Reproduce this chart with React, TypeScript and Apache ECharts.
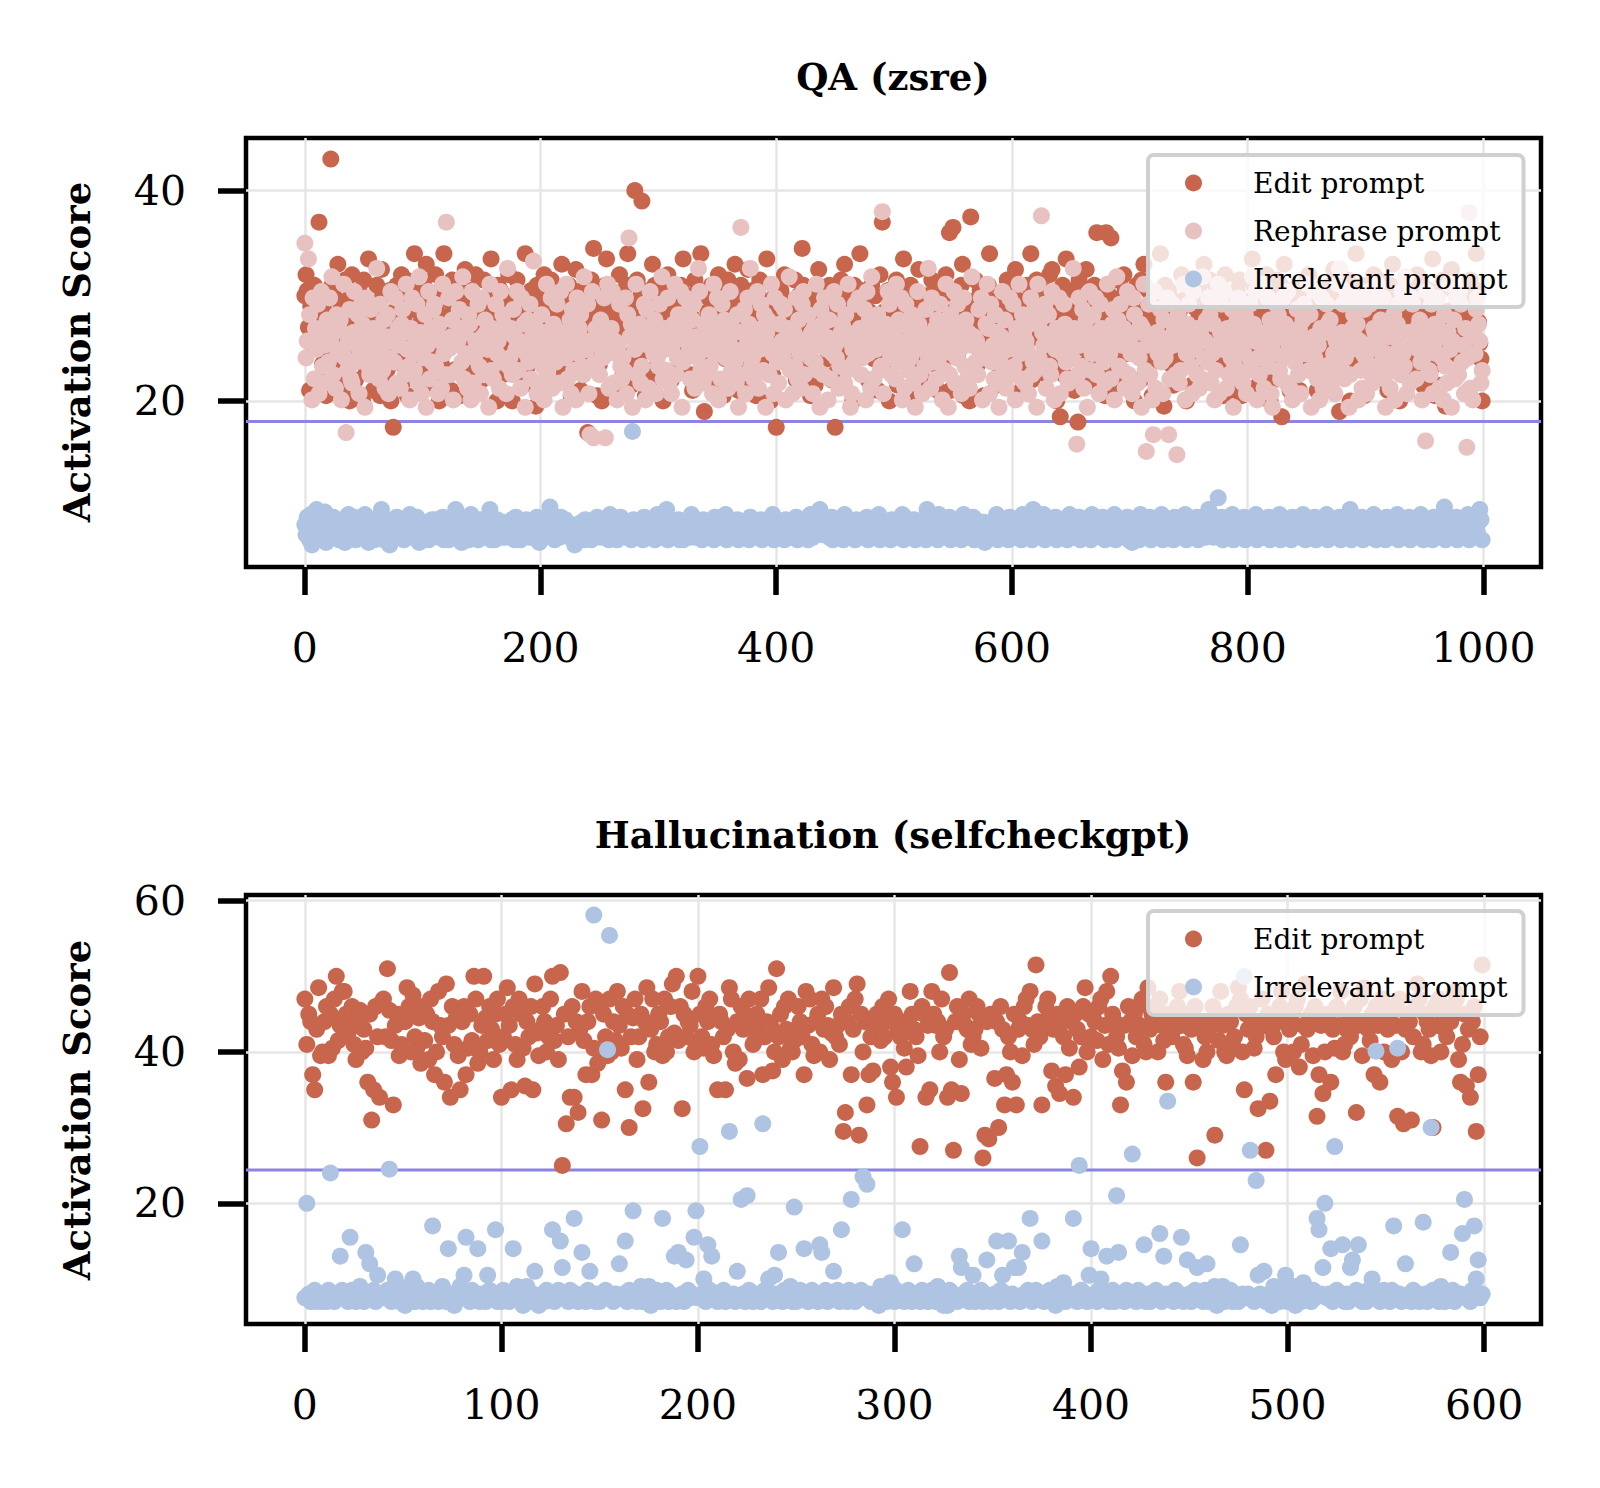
import React, { useEffect, useRef } from "react";
import * as echarts from "echarts";

// Character code table: value = base + index * step
const CODE = "0123456789abcdefghijklmnopqrstuvwxyzABCDEFGHIJKLMNOPQRSTUVWXYZ";

// ---------- QA (zsre) ----------
const qaTitle = "QA (zsre)";
const qaXTicks = [0, 200, 400, 600, 800, 1000];
const qaYTicks = [20, 40];
const qaXRange = [-49.95, 1048.95];
const qaYRange = [4.22, 45.0];
const qaThreshold = 18.05;
// Edit prompt scores (base 14, step 0.5)
const qaEditCodes = `
wAxqeunsyg gpKuvjmtdo ehWyxqmfCv kiptzfnqcw Asrgolxuqc zmiuDkrpeh qyntdBwlgs irxcm7tqyk uoAjsgzdnw pvlEqhtxmf
kyoCsiwqfu nAtlcxjpEg sqmvezotiy rwdqnuBlhp jxtemAriqv gsznukwqDj prtcyoxmhs vqkAnrcuto zjsqwfpEir nuxkqtbyom
svjArqlwgz otmxkupgCr iqwnytdosk Bruqexhvpl 6sqzoFrtdw jqcunyDsmr xpewtsoAlq hvryEjtfqu QszkrwOxmd tnvgqCiysr
lowuczqmAt rgxspnvqjy oDkrtwmhse qzlxonEjra wktqmypvgu rAnosdxkqz tmwrlCuoep yqskvnBgtr xoqdmwzsku prDltcqhyw
7sqoxkuArm jvtpqnzgsw rlFyoqkutd xisfnwBjpr otvkmyrgsh 7uxnqzlsCo ktrwpcyqmu sExovnqrgt lyqkwsemAr Kjtqpxcnvs
rmzfuqwlDs pjtoyqxind vBsmkgurwo tlzpjyqesv nrxkAoqIet JswqlrpyCd otnvcLiruz sjmxpwdqtr yEolqvsfjr uqhtwkzmps
rxoBnqjvet kumyqsEgiw pzotjrqnxh svAlBqutcr w9jyhqDsnp qtxerm8zog usjBnqlwfk ytIoxqmsid IrkwHqtezo jvsgmAxlru
qnwtcoyprg zsCqmuxjvd tnrlwqEkpb yomxujqfvh rstkAnzqcw pxofumqrty gwkCnsvqzo rtlyxpmqjd kAsvnewrqi txmzpdjrsu
qovkDynwtf mjqxusAlpc wrgtkzqny9 sCmorqexup lntwevqyrs zoAmjqtuxe rwqpkvsnoe yxtBrumjak vsoqnzwcrt puEjqmxkyd
rnvtowqAlg kzsurqmxpe wyoCnrljvc sumxkhtpzr qowjAnvsyf trmqxluDpd jwfsnqzrbt yomBqxluhs rnpktwqvez oqsmExrnkc
`;
// Rephrase prompt scores: each letter stands for one level below, plus stand-out values
const qaRephraseLevels: Record<string, number> = {
  a: 19.4, b: 20.1, c: 20.7, d: 21.2, e: 21.7, f: 22.1, g: 22.5, h: 22.9, i: 23.3, j: 23.7,
  k: 24.1, l: 24.5, m: 24.9, n: 25.3, o: 25.7, p: 26.1, q: 26.5, r: 26.9, s: 27.3, t: 27.7,
  u: 28.2, v: 28.7, w: 29.2, x: 29.8, y: 30.4, z: 31.1, A: 31.8, B: 32.6, C: 33.3,
};
const qaRephraseCodes = `
GkDhuobxfr mwcpyienst jxoAgqdulr tbmzk6hovf eqyjnuclws oaxpigvnrk lBqfwnhtdp uckyopjxer ndsvqgzmib rxlhoweAqc
pkuanyfrjv wiqcsodzlg Kmxgptbnyh ovrjAfqldu sbyekonwic xpgtqmazhr fnwlodyjus qcBikrgvpm yhodxnsalt jwfpCmrcke
nuibqzgolx dsrjwmeypa qkzfntcvho bxlruigAom wc5oy5jrhn gtqkx5mzdo ryeolbnwif khxcuHpsaq mzgoseirwb vndyqpltck
iwoAfmrhxe pcnszgkuqy ajrxolvfmt wdpkByhnes qgmuioczrl xbnfwqtkpd oyhrmjeuag JqlvcnxsBi kfopydmwrh uaqtgnzlcx
mjeswokvbp rAhncqixft ldwygomupk qcrjzhnavs gxpmbtfoly nkwdiqsreu hzoacmjwqp xrgknvbylt dAqfomurhi Mcnspywkgo
qfzltjxbnd wohrkuemap ysgqcnivlB mdxojrftkw pbnhzqagus lyekwomcrx itfqdnAhpj ogvmxbklsz rcwjnfuqea kpyhtdomxg
nwibrqzlfu qeomcsxgjv hazktLqnwd ouigynbmrp xcqlwsjfeo mkBrp4gxni vdotaqyhlu nxgmcwrpje ozklfsvbqA tiwnhrdoyg
plcxumqeks arzh2nwgob 5ydqlovjct kmx5fpwnrg 2uehoqzbls wnicymrgpd qfAkotjxue lsbhnzcqwm yodrgpkvai mtxfqneluc
rhwjAsoybk gpnzdqmxit caolwruhfq xkseyndpbm jqvgrcotwl ozhuampkyf nbrxdiqwsg tejlcopzBh qwfkynagmr upxsbohdlv
kcnywgerqi zmotjxfalp rdhqubkswn gyliAcqoex wpnfrmtjbk o4yqhgwcns lxrdpkbuie qzmaotfxhg ywjncr3kMd pbqlvxsoeh
`;
const qaRephraseOutliers: [number, number][] = [
  [0, 35.0], [3, 33.5], [35, 17.0], [120, 37.0], [242, 16.8], [245, 16.5],
  [255, 16.5], [275, 35.5], [370, 36.5], [490, 38.0], [625, 37.6], [655, 15.9],
  [714, 15.2], [720, 16.8], [733, 16.8], [740, 14.9], [951, 16.2], [986, 15.6], [988, 37.9],
];
// Irrelevant prompt scores (base 4.4, step 0.24), plus two stand-out values
const qaIrrelevantCodes = `
gcjeak8fhd mbfiecgl9e dhfbjgceia fegc9hbkdf ecjafgdhbe gkdf9cihea bfegdmcaih eg8dfhbcje cfhdaegibk dgebfjc9he
fbhecagdif eidgbfcjah ceafhdgbme gdb9efjcha ekcfdhgabi dfhbcegmad gaeidfcbhe bdgfecihaj fceagbdhie hbefdcgja9
cgdbifehnk edafcgbjhd fihcebdga8 dbgefhcaie gcfadbhejd ebhdgcfiak chfebadgjd fdgbcheaZi bgecfdhaji ecfhbgdaik
hdbecfgmad fceghbdiae dagcfehbkd gebdhcfaie cfhdbegajd ebgcfdhkai hdcfebgiad fbeghcdaje cgfdbehiad edhcgfbkad
bfeghdcaie hcfbedgjad dgecbfhaik fbdhcegmid cegfdbhjae gdbecfhaki ebhcgdfaid hfcebgdjae cdgfhbekai bgedcfhaid
fcehbgdkaj dhbfcegiad gecdbhfame cfbhdgeaki ehdcfbgjad bgfehcdaik hcebgfdjai dfgcbeh9ad gbehcfdkai edcfgbhaje
cghbefdiak fdecgbhamd bhgfcedkai egcdhfbjad dfbegchaik hcfdbegjad gebchfdaki cdhgfebjia fgedbchkad bhcfegdija
eg9dcfhbak chfbgedjai gdehcbfkad fbgcdehaji dechfgbkai hgbdcefjad cfegbhdmik ebdfgtcija gchbedfkad dfcehgbjai
bgfdcehkad hecgbfdija cfhdegbkai gdbfhceajd ehcgdbfkia fbdecghjad cgehfbdkai dhfcgebija gebdfchmad bcfhegdjai
hdgcbefkia ecfbhdgajd gbhedcfkai cfdgbhejad dhecfgbkia fgbdhceaji bcfegdhnad edhbcfgjai hfcgdebkad cgbfedhmia
`;
const qaIrrelevantHigh: [number, number][] = [
  [278, 17.1],
  [775, 10.8],
];

// ---------- Hallucination (selfcheckgpt) ----------
const hallTitle = "Hallucination (selfcheckgpt)";
const hallXTicks = [0, 100, 200, 300, 400, 500, 600];
const hallYTicks = [20, 40, 60];
const hallXRange = [-29.95, 628.95];
const hallYRange = [4.04, 60.75];
const hallThreshold = 24.4;
// Edit prompt scores (base 22, step 0.5)
const hallEditCodes = `
OCKIuqGRzA IMzKBOUDHQ QKFIMCyHLA GBsKiqMEoN OEWLDmHKzC KIRMAPEBJx MDKyOIuAQH EsSHoMCJzq IMuBKDUOxA HUJDMGyKOC
oEKRHqMCyO KBrIEMqSFz GMIAEOUDHy V6KhEoMoIk GQDuIMuBOx MiKEzOAIDQ HBMqKgEJOy EKlIRsGOAC KIzOAEMSFU DMlKEIHQAC
UKEBMIOCzJ qKIEqGROAx IyMGKtOHCD KGOuEIRHvA WEKyMGOBAD GMIEuQHOCz IKAOGMHyFR EHCKfkIMuG OSeKAImuEv IKHDMEIOws
KoGEIBwHQK GEzbMKoHqQ KHIAOEGoVq aIMypKHGOC EGMKB8eIdK KtIgMGmuEA sKmGIzMOHQ GCXIEmHMOK vGrKpIEuMB IoKGwEMRAK
EKIDMOyHQC UKIEBmvHsM IzKEMHOCAR GKIMAOHDsK IEGKMQHCBz KGsM8IHyEA GIMeKDQHAz KICEMROAqK GMIBElIOHa KnGEuIMQAy
IGKAMOwCHS GIKzMjuHpA KIsGBMHQAC GKEIMkHOzR IGDKuMHsOA KGIyMHjOAh GKIiEMSOAC KIGzgMHOAK GEKIMQOysC KrGoIMfuEX
`;
// Irrelevant prompt scores (base 6, step 0.5), plus a few high values
const hallIrrelevantCodes = `
3s42352432 425A3243e5 342j532463 2f4c352943 435B248325 3146382643 24352m4324 632g431436 39j42534g2 4329534l23
253423g463 4136324a31 342534l235 ib34253o42 3f425a3Z24 2435ZZ3243 c34i253q42 3624361435 42o35243e2 f342d534jq
3H482h5e34 243524L342 a3t42u5324 342N538429 4f3254362r 2354g32453 42hf35243a 352l4325t4 2435z3x423 4316342674
2534l23542 c432534235 3265314153 432eb43524 9243524d32 34i25934i2 4b3b2f435o 23543i2435 3416347234 4o32C53429
g3425834e2 352uf43253 4F32543h24 23453k2e4T 342534j23d 4235b3425c 2436143624 352432h4Z3 4G32y943a2 3416342359
2436134273 43253ol4bs 34g2H534h2 42bd35h423 25384Z3245 3425m3Z423 c34253423n 423M534263 243f52434k t3425m8d34
`;
const hallIrrelevantHigh: [number, number][] = [
  [147, 58.1],
  [154, 40.3],
  [155, 55.4],
  [478, 50.0],
  [545, 40.1],
  [556, 40.5],
];

const seriesNames = ["Edit prompt", "Rephrase prompt", "Irrelevant prompt"];
const colors = {
  edit: "#C7664C",
  rephrase: "#E8C1C1",
  irrelevant: "#AEC4E2",
  threshold: "#8C84E0",
};

function decode(codes: string, base: number, step: number): number[] {
  return codes
    .replace(/\s+/g, "")
    .split("")
    .map((c) => +(base + CODE.indexOf(c) * step).toFixed(2));
}

function decodeLevels(codes: string, levels: Record<string, number>, fallback: number): number[] {
  return codes
    .replace(/\s+/g, "")
    .split("")
    .map((c) => (c in levels ? levels[c] : fallback));
}

function withOverrides(values: number[], overrides: [number, number][]): number[] {
  const out = values.slice();
  overrides.forEach(([i, v]) => {
    out[i] = v;
  });
  return out;
}

const FONT = '"DejaVu Serif", "Liberation Serif", serif';

function toPoints(values: number[]): [number, number][] {
  return values.map((v, i) => [i, v]);
}

export default function App() {
  const ref = useRef<HTMLDivElement>(null);

  useEffect(() => {
    if (!ref.current) return;
    const chart = echarts.init(ref.current, undefined, { renderer: "svg" });

    const qaEdit = decode(qaEditCodes, 14, 0.5);
    const qaRephrase = withOverrides(
      decodeLevels(qaRephraseCodes, qaRephraseLevels, 25.7),
      qaRephraseOutliers
    );
    const qaIrr = withOverrides(decode(qaIrrelevantCodes, 4.4, 0.24), qaIrrelevantHigh);
    const hallEdit = decode(hallEditCodes, 22, 0.5);
    const hallIrr = withOverrides(decode(hallIrrelevantCodes, 6, 0.5), hallIrrelevantHigh);

    const grids = [
      { left: 246, top: 138, width: 1295, height: 429 },
      { left: 246, top: 895, width: 1295, height: 429 },
    ];

    const axisBase = (gi: number, range: number[], ticks: number[]) => ({
      type: "value",
      gridIndex: gi,
      min: range[0],
      max: range[1],
      axisLine: { show: false, onZero: false },
      axisTick: {
        show: true,
        customValues: ticks,
        length: 28,
        lineStyle: { color: "#000", width: 5.5 },
      },
      axisLabel: {
        customValues: ticks,
        formatter: (v: number) => String(v),
        fontFamily: FONT,
        fontSize: 41,
        color: "#000",
        margin: 60,
      },
      splitLine: { show: true, lineStyle: { color: "#e6e6e6", width: 2.5 } },
    });

    const scatter = (name: string, gi: number, values: number[], color: string) => ({
      type: "scatter",
      name,
      xAxisIndex: gi,
      yAxisIndex: gi,
      data: toPoints(values),
      symbol: "circle",
      symbolSize: 17,
      itemStyle: { color, opacity: 1 },
      z: 2,
      silent: true,
    });

    const thresholdLine = (gi: number, xr: number[], t: number) => ({
      type: "line",
      xAxisIndex: gi,
      yAxisIndex: gi,
      data: [
        [xr[0], t],
        [xr[1], t],
      ],
      symbol: "none",
      lineStyle: { color: colors.threshold, width: 3 },
      z: 1,
      silent: true,
    });

    const legendBase = (top: number, names: string[]) => ({
      orient: "vertical",
      left: 1148,
      top,
      data: names,
      icon: "circle",
      itemWidth: 17,
      itemHeight: 17,
      itemGap: 20,
      padding: [14, 16, 14, 37],
      backgroundColor: "rgba(255,255,255,0.8)",
      borderColor: "#d0d0d0",
      borderWidth: 4,
      borderRadius: 6,
      selectedMode: false,
      z: 10,
      textStyle: {
        fontFamily: FONT,
        fontSize: 28,
        lineHeight: 28,
        color: "#000",
        padding: [0, 0, 0, 46],
      },
    });

    const textEl = (x: number, y: number, text: string, size: number, rot = 0) => ({
      type: "text",
      x,
      y,
      rotation: rot,
      z: 20,
      style: {
        text,
        fill: "#000",
        font: `bold ${size}px ${FONT}`,
        align: "center",
        verticalAlign: "middle",
        textAlign: "center",
        textVerticalAlign: "middle",
      },
    });

    chart.setOption({
      animation: false,
      backgroundColor: "#ffffff",
      grid: grids.map((g) => ({
        ...g,
        show: true,
        borderColor: "#000",
        borderWidth: 4.5,
        backgroundColor: "transparent",
      })),
      xAxis: [axisBase(0, qaXRange, qaXTicks), axisBase(1, hallXRange, hallXTicks)],
      yAxis: [axisBase(0, qaYRange, qaYTicks), axisBase(1, hallYRange, hallYTicks)],
      legend: [
        legendBase(155, seriesNames),
        legendBase(911, [seriesNames[0], seriesNames[2]]),
      ],
      series: [
        thresholdLine(0, qaXRange, qaThreshold),
        scatter(seriesNames[0], 0, qaEdit, colors.edit),
        scatter(seriesNames[1], 0, qaRephrase, colors.rephrase),
        scatter(seriesNames[2], 0, qaIrr, colors.irrelevant),
        thresholdLine(1, hallXRange, hallThreshold),
        scatter(seriesNames[0], 1, hallEdit, colors.edit),
        scatter(seriesNames[2], 1, hallIrr, colors.irrelevant),
      ],
      graphic: [
        textEl(893, 77, qaTitle, 37),
        textEl(893, 835, hallTitle, 37),
        textEl(77, 352, "Activation Score", 37, Math.PI / 2),
        textEl(77, 1110, "Activation Score", 37, Math.PI / 2),
      ],
    });

    return () => chart.dispose();
  }, []);

  return (
    <div
      ref={ref}
      style={{ position: "absolute", left: 0, top: 0, width: 1600, height: 1488, background: "#fff" }}
    />
  );
}
